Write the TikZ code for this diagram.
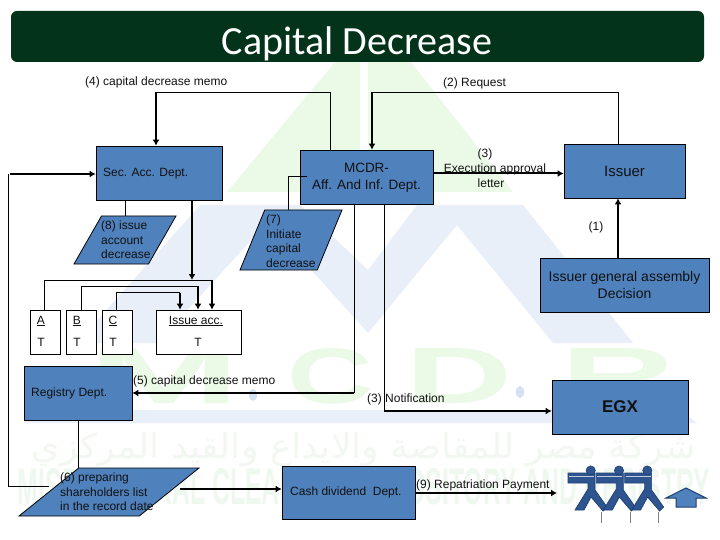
\documentclass[tikz,border=0pt]{standalone}
\usepackage{fontspec}
\setmainfont{Liberation Sans}
\newfontfamily\titlefont{Carlito}
\newfontfamily\arabicfont[Script=Arabic]{DejaVu Sans}
\TeXXeTstate=1
\usetikzlibrary{arrows.meta,shapes.geometric}
\definecolor{boxblue}{HTML}{4F81BD}
\definecolor{barGreen}{HTML}{03331A}
\definecolor{wmgreen}{HTML}{EAFAE7}
\definecolor{wmblue}{HTML}{E9EFF9}
\definecolor{wmdot}{HTML}{D5E1F0}
\definecolor{wmarab}{HTML}{F2F7F2}
\definecolor{wmlat}{HTML}{EEF8EE}
\definecolor{ink}{HTML}{111111}
\definecolor{mandark}{HTML}{1F3F73}
\definecolor{manfill}{HTML}{2F5590}
\tikzset{
  bluebox/.style={draw=black,line width=0.8pt,fill=boxblue,text=ink,inner sep=0pt,font=\fontsize{12}{14}\selectfont,align=center},
  paper/.style={draw=black,line width=0.8pt,fill=white,inner sep=0pt},
  slant/.style={trapezium,draw=black,line width=0.8pt,fill=boxblue,inner sep=0pt,trapezium stretches=true},
  lab/.style={text=ink,inner sep=0pt,font=\fontsize{12}{14.4}\selectfont},
  cell/.style={text=ink,inner sep=0pt,font=\fontsize{12}{14}\selectfont},
  wmletter/.style={inner sep=0pt,text=wmgreen,anchor=north west},
  thinl/.style={draw=black,line width=0.9pt},
  thickl/.style={draw=black,line width=2pt},
  tip/.style={-{Latex[length=6pt,width=7pt]}}
}
\begin{document}
\begin{tikzpicture}[x=1pt,y=-1pt]
\useasboundingbox (0,0) rectangle (720,540);
\fill[white] (0,0) rectangle (720,540);
% watermark
\fill[wmgreen] (335,62)--(227,192)--(360,192)--(360,62)--cycle;
\fill[wmgreen] (368,62)--(368,192)--(513,192)--(411,62)--cycle;
\fill[wmblue] (200,205)--(300,205)--(368,270)--(417,205)--(523,205)--(633,343)--(553,343)--(457,225)--(368,333)--(268,222)--(157,343)--(77,343)--cycle;
\fill[wmblue] (24,410)--(680,410)--(697,423)--(24,423)--cycle;
\node[wmletter] (wmm) at (88,348) {\resizebox{152pt}{55pt}{\bfseries M}};
\node[wmletter] (wmc) at (287,348) {\resizebox{86pt}{55pt}{\bfseries C}};
\node[wmletter] (wmd) at (405,348) {\resizebox{107pt}{55pt}{\bfseries D}};
\node[wmletter] (wmr) at (560,348) {\resizebox{115pt}{55pt}{\bfseries R}};
\fill[wmdot] (253,395) ellipse (4pt and 6pt);
\fill[wmdot] (520,392) ellipse (4pt and 6pt);
\node[inner sep=0pt,text=wmarab] (wmarabic) at (364,450) {\resizebox{664pt}{26pt}{\arabicfont\beginR شركة مصر للمقاصة والايداع والقيد المركزي\endR}};
\node[inner sep=0pt,text=wmlat] (wmlatin) at (364,490) {\resizebox{692pt}{36pt}{\bfseries MISR CENTRAL CLEARING, DEPOSITORY AND REGISTRY}};
% title
\node[draw=none,fill=barGreen,rounded corners=6pt,minimum width=693pt,minimum height=51pt,inner sep=0pt] (bar) at (357.5,36.5) {};
\node[text=white,inner sep=0pt,anchor=base,font=\titlefont\fontsize{40}{40}\selectfont] (title) at (357,55) {Capital Decrease};
% boxes
\node[bluebox,minimum width=126pt,minimum height=54pt] (sec) at (159,173) {};
\node[lab,anchor=west] (sectext) at (103,174) {Sec. Acc. Dept.};
\node[bluebox,minimum width=133pt,minimum height=54pt] (mcdr) at (366.5,177) {};
\node[lab,align=center,font=\fontsize{13.5}{17}\selectfont] (mcdrtext) at (366.5,178) {MCDR-\\Aff. And Inf. Dept.};
\node[bluebox,minimum width=121pt,minimum height=54pt,font=\fontsize{15}{17}\selectfont] (issuer) at (624.5,171) {Issuer};
\node[bluebox,minimum width=169pt,minimum height=54pt,font=\fontsize{14}{17}\selectfont] (assembly) at (624.5,285) {Issuer general assembly\\Decision};
\node[bluebox,minimum width=108pt,minimum height=54pt] (registry) at (78,393) {};
\node[lab,anchor=west] (regtext) at (31,393) {Registry Dept.};
\node[bluebox,minimum width=133pt,minimum height=53pt] (cash) at (348.5,492.5) {};
\node[lab,anchor=west] (cashtext) at (290,492.5) {Cash dividend\ \ Dept.};
\node[bluebox,minimum width=136pt,minimum height=54pt,font=\fontsize{17}{18}\selectfont\bfseries] (egx) at (620,407) {EGX};
% slanted
\node[slant,trapezium left angle=61,trapezium right angle=119,minimum width=102pt,minimum height=48pt] (para8) at (125,240) {\phantom{x}};
\node[lab,anchor=west,align=left,font=\fontsize{12}{14.5}\selectfont] (text8) at (101,240) {(8) issue\\account\\decrease};
\node[slant,trapezium left angle=66,trapezium right angle=114,minimum width=102pt,minimum height=60pt] (para7) at (291,240) {\phantom{x}};
\node[lab,anchor=west,align=left,font=\fontsize{12}{14.5}\selectfont] (text7) at (266,241) {(7)\\Initiate\\capital\\decrease};
\node[slant,trapezium left angle=47,trapezium right angle=133,minimum width=180pt,minimum height=48pt] (para6) at (109,492) {\phantom{x}};
\node[lab,anchor=west,align=left,font=\fontsize{12}{14.5}\selectfont] (text6) at (60,492) {(6) preparing\\shareholders list\\in the record date};
% paper boxes
\node[paper,minimum width=30pt,minimum height=44pt] (boxa) at (45,332) {};
\node[paper,minimum width=30pt,minimum height=44pt] (boxb) at (81,332) {};
\node[paper,minimum width=30pt,minimum height=44pt] (boxc) at (117,332) {};
\node[paper,minimum width=85pt,minimum height=44pt] (boxi) at (198.5,332) {};
\node[cell] (la) at (41,321) {\underline{A}};
\node[cell] (lb) at (77,321) {\underline{B}};
\node[cell] (lc) at (113,321) {\underline{C}};
\node[cell] (li) at (196,321) {\underline{Issue acc.}};
\node[cell] (ta) at (41,342) {T};
\node[cell] (tb) at (77,342) {T};
\node[cell] (tc) at (113,342) {T};
\node[cell] (ti) at (198,342) {T};
% free-end coordinates
\coordinate (t4) at (330,92);
\coordinate (d4) at (156,92);
\coordinate (t2) at (618,92);
\coordinate (d2) at (372,92);
\coordinate (loopa) at (8,486);
\coordinate (loopb) at (8,174);
\coordinate (loopc) at (10,174);
\coordinate (ra) at (44,280);
\coordinate (rai) at (212,280);
\coordinate (rb) at (81,286);
\coordinate (rbi) at (198,286);
\coordinate (rc) at (116,292.5);
\coordinate (rci) at (180,292.5);
\coordinate (j5) at (354,393);
\coordinate (j5b) at (384,393);
\coordinate (j3) at (384,411);
\coordinate (s7) at (307,176);
\coordinate (b7) at (288,176);
\coordinate (secd) at (192,280);
\coordinate (repend) at (557,493);
% connectors
\draw[thinl] (mcdr.north -| t4) -- (t4) -- (d4);
\draw[thickl,tip] (d4) -- (sec.north -| d4);
\draw[thinl] (issuer.north -| t2) -- (t2) -- (d2);
\draw[thickl,tip] (d2) -- (mcdr.north -| d2);
\draw[thickl,tip] (mcdr.east |- 0,173.5) -- (issuer.west |- 0,173.5);
\draw[thickl,tip] (assembly.north -| t2) -- (issuer.south -| t2);
\draw[thinl] (s7) -- (b7) -- (para7.north -| b7);
\draw[thinl] (sec.south -| para8.north) -- (para8.north);
\draw[thickl,tip] (sec.south -| secd) -- (secd);
\draw[thinl] (boxa.north -| ra) -- (ra) -- (rai);
\draw[thickl,tip] (rai) -- (boxi.north -| rai);
\draw[thinl] (boxb.north -| rb) -- (rb) -- (rbi);
\draw[thickl,tip] (rbi) -- (boxi.north -| rbi);
\draw[thinl] (boxc.north -| rc) -- (rc) -- (rci);
\draw[thickl,tip] (rci) -- (boxi.north -| rci);
\draw[thinl] (mcdr.south -| j3) -- (j3);
\draw[thinl] (mcdr.south -| j5) -- (j5);
\draw[thickl,tip] (j5) -- (registry.east |- j5);
\draw[thickl,tip] (j3) -- (egx.west |- j3);
\draw[thinl] (registry.south) -- (para6.north -| registry.south);
\draw[thinl] (49,486) -- (loopa) -- (loopb);
\draw[thickl,tip] (loopc) -- (sec.west |- loopc);
\draw[thickl,tip] (180,489) -- (cash.west |- 0,489);
\draw[thickl,tip] (cash.east |- repend) -- (repend);
% labels
\node[lab,anchor=west] (l4) at (85,82) {(4) capital decrease memo};
\node[lab,anchor=west] (l2) at (443,83) {(2) Request};
\node[lab,align=center,font=\fontsize{12}{15}\selectfont] (l3) at (495,168) {(3)\hspace*{20pt}\\Execution approval\\letter\hspace*{8pt}};
\node[lab] (l1) at (596,227) {(1)};
\node[lab,anchor=west] (l5) at (133,381) {(5) capital decrease memo};
\node[lab,anchor=west] (l3n) at (367,399.5) {(3) Notification};
\node[lab,anchor=west] (l9) at (416,485) {(9) Repatriation Payment};
% figures
\foreach \dx in {0,28.3,56.6}{
  \begin{scope}[shift={(\dx,0)}]
    \draw[mandark,line width=0.7pt,fill=manfill] (568,473)--(595,473)--(595,490)--(607,507)--(603,511)--(591,497)--(584,510)--(575,510)--(588,489)--(588,483)--(568,483)--cycle;
    \draw[white!70!manfill,line width=0.5pt] (569,476)--(594,476);
    \fill[manfill,draw=mandark,line width=0.6pt] (590.7,470.5) circle (4.6pt);
    \draw[gray,line width=0.6pt] (601.7,512)--(601.7,523);
  \end{scope}
}
\draw[draw=mandark,line width=1pt,fill=boxblue] (666,498)--(686,488)--(706,498)--(696,498)--(696,507)--(676,507)--(676,498)--cycle;
\end{tikzpicture}
\end{document}
